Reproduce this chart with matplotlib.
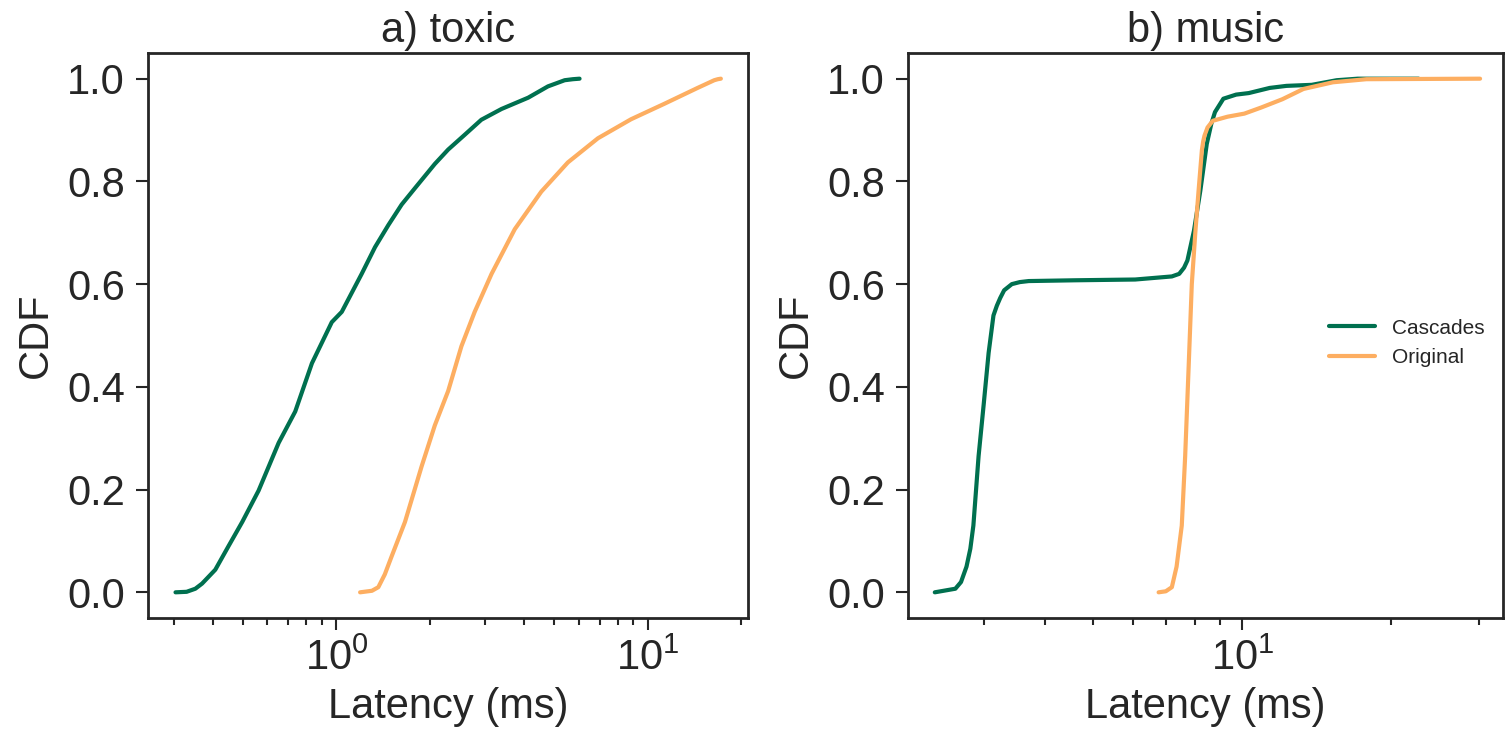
import matplotlib
matplotlib.use("Agg")
import matplotlib.pyplot as plt
import numpy as np

plt.rcParams['font.family'] = ['Liberation Sans', 'DejaVu Sans']
plt.rcParams['mathtext.fontset'] = 'custom'
plt.rcParams['mathtext.rm'] = 'Liberation Sans'
plt.rcParams['mathtext.it'] = 'Liberation Sans:italic'
plt.rcParams['mathtext.bf'] = 'Liberation Sans:bold'
plt.rcParams['text.color'] = '#262626'
plt.rcParams['axes.labelcolor'] = '#262626'
plt.rcParams['xtick.color'] = '#262626'
plt.rcParams['ytick.color'] = '#262626'
plt.rcParams['axes.edgecolor'] = '#262626'

# ---- data ----
titles = ["a) toxic", "b) music"]
series_names = ["Cascades", "Original"]
colors = ["#00704f", "#fdae61"]

# a) toxic
toxic_casc_x = [0.304, 0.33, 0.352, 0.37, 0.408, 0.45, 0.498, 0.562, 0.652, 0.737, 0.834, 0.966,
                1.04, 1.205, 1.33, 1.468, 1.62, 1.788, 2.07, 2.285, 2.585, 2.92, 3.39, 4.13,
                4.78, 5.41, 5.75, 6.04]
toxic_casc_y = [0.0, 0.001, 0.007, 0.017, 0.044, 0.09, 0.137, 0.198, 0.291, 0.352, 0.446, 0.526,
                0.546, 0.62, 0.672, 0.715, 0.755, 0.787, 0.834, 0.862, 0.891, 0.92, 0.941, 0.963,
                0.985, 0.997, 0.999, 1.0]
toxic_orig_x = [1.191, 1.30, 1.363, 1.43, 1.504, 1.66, 1.877, 2.07, 2.285, 2.52, 2.78, 3.15,
                3.74, 4.55, 5.54, 6.92, 8.84, 11.3, 14.46, 16.36, 16.8, 17.18]
toxic_orig_y = [0.0, 0.003, 0.01, 0.035, 0.07, 0.137, 0.245, 0.325, 0.392, 0.479, 0.546, 0.62,
                0.707, 0.78, 0.837, 0.884, 0.921, 0.951, 0.982, 0.997, 0.999, 1.0]

# b) music
music_casc_x = [2.39, 2.63, 2.70, 2.77, 2.82, 2.86, 2.93, 3.0, 3.07, 3.14, 3.19, 3.24, 3.30,
                3.42, 3.55, 3.70, 4.59, 6.07, 7.2, 7.45, 7.62, 7.74, 7.98, 8.22, 8.47, 8.65,
                8.8, 9.15, 9.71, 10.3, 11.35, 12.27, 13.8, 15.5, 17.1, 22.7]
music_casc_y = [0.0, 0.007, 0.02, 0.05, 0.085, 0.13, 0.265, 0.365, 0.466, 0.539, 0.558, 0.573,
                0.588, 0.6, 0.604, 0.606, 0.6075, 0.609, 0.615, 0.62, 0.632, 0.646, 0.704, 0.782,
                0.873, 0.912, 0.935, 0.961, 0.969, 0.972, 0.982, 0.986, 0.988, 0.997, 1.0, 1.0]
music_orig_x = [6.77, 7.0, 7.2, 7.36, 7.54, 7.66, 7.78, 7.9, 8.03, 8.15, 8.28, 8.33, 8.38,
                8.5, 8.71, 9.33, 10.09, 10.92, 12.04, 13.28, 15.23, 17.8, 30.2]
music_orig_y = [0.0, 0.002, 0.01, 0.05, 0.13, 0.265, 0.432, 0.6, 0.70, 0.78, 0.861, 0.878,
                0.889, 0.905, 0.918, 0.926, 0.932, 0.944, 0.96, 0.98, 0.993, 0.999, 1.0]

panels = [
    [(toxic_casc_x, toxic_casc_y), (toxic_orig_x, toxic_orig_y)],
    [(music_casc_x, music_casc_y), (music_orig_x, music_orig_y)],
]
xlims = [(0.248, 21.0), (2.11, 33.6)]
yticks = [0.0, 0.2, 0.4, 0.6, 0.8, 1.0]

fig = plt.figure(figsize=(15.08, 7.30), dpi=100)
rects = [[148/1508, 112/730, 600/1508, 565/730],
         [908/1508, 112/730, 595/1508, 565/730]]

FS = 30
for i, rect in enumerate(rects):
    ax = fig.add_axes(rect)
    for (xs, ys), name, c in zip(panels[i], series_names, colors):
        ax.plot(xs, ys, color=c, lw=3, label=name, solid_capstyle='round',
                solid_joinstyle='round')
    ax.set_xscale('log')
    ax.set_xlim(*xlims[i])
    ax.set_ylim(-0.05, 1.05)
    ax.set_yticks(yticks)
    ax.set_yticklabels([f"{v:.1f}" for v in yticks])
    ax.set_title(titles[i], fontsize=FS, pad=8)
    ax.set_xlabel("Latency (ms)", fontsize=FS, labelpad=6)
    ax.set_ylabel("CDF", fontsize=FS, labelpad=8)
    ax.tick_params(axis='both', which='major', labelsize=FS, length=8.6, width=1.5,
                   direction='out')
    ax.tick_params(axis='y', which='major', pad=8)
    ax.tick_params(axis='x', which='major', pad=6)
    ax.tick_params(axis='x', which='minor', length=5, width=1.5, direction='out')
    for s in ax.spines.values():
        s.set_linewidth(2.0)
    if i == 1:
        ax.legend(loc='center right', bbox_to_anchor=(1.0, 0.487), frameon=False,
                  fontsize=15, handlelength=2.2)

fig.savefig("out.png", dpi=100)
